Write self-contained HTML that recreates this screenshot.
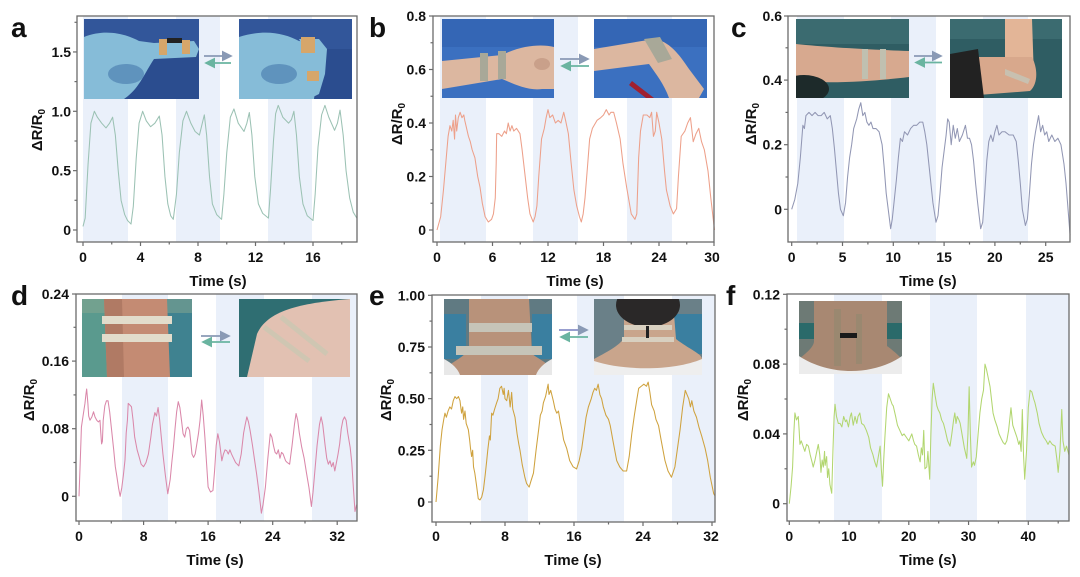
<!DOCTYPE html>
<html><head><meta charset="utf-8"><style>
html,body{margin:0;padding:0;background:#fff;}
svg{display:block;}
text{font-family:"Liberation Sans",Arial,sans-serif;font-weight:bold;fill:#111;}
.t{font-size:14px;}
.lab{font-size:15px;}
.let{font-size:28px;}
.fr{fill:none;stroke:#6b6b6b;stroke-width:1.3;}
.tk{stroke:#6b6b6b;stroke-width:1.2;}
.band{fill:#eaf0fa;}
.cv{fill:none;stroke-width:1.05;vector-effect:non-scaling-stroke;stroke-linejoin:round;}
</style></head><body>
<svg width="1080" height="577" viewBox="0 0 1080 577" xmlns="http://www.w3.org/2000/svg">
<defs>
<marker id="ahR" markerWidth="6" markerHeight="6" refX="5" refY="3" orient="auto"><path d="M0,0 L6,3 L0,6 Z" fill="#8a9ab5"/></marker>
<marker id="ahL" markerWidth="6" markerHeight="6" refX="5" refY="3" orient="auto"><path d="M0,0 L6,3 L0,6 Z" fill="#6ab4a0"/></marker>
</defs>
<rect width="1080" height="577" fill="#fff"/>

<!-- ================= PANEL A ================= -->
<rect class="band" x="83" y="16" width="45" height="226"/>
<rect class="band" x="176" y="16" width="44" height="226"/>
<rect class="band" x="268" y="16" width="44" height="226"/>
<svg x="84" y="19" width="115" height="80">
<rect width="115" height="80" fill="#2b4d8f"/>
<rect width="115" height="30" fill="#32569a"/>
<path d="M0,18 C20,10 40,14 55,22 L70,24 L110,22 L115,30 L112,38 L70,40 C60,55 55,70 40,80 L0,80 Z" fill="#86bcd8"/>
<ellipse cx="42" cy="55" rx="18" ry="10" fill="#5f93bd"/>
<rect x="75" y="20" width="8" height="16" fill="#d6a66a"/>
<rect x="98" y="21" width="8" height="14" fill="#d6a66a"/>
<rect x="83" y="19" width="15" height="5" fill="#222"/>
</svg>
<svg x="239" y="19" width="113" height="80">
<rect width="113" height="80" fill="#2b4d8f"/>
<rect width="113" height="30" fill="#32569a"/>
<path d="M0,18 C25,10 45,14 60,22 L75,24 L80,40 L75,80 L0,80 Z" fill="#86bcd8"/>
<path d="M60,20 L80,20 L88,30 L86,55 L80,75 L70,80 L66,60 L68,35 Z" fill="#86bcd8"/>
<ellipse cx="40" cy="55" rx="18" ry="10" fill="#5f93bd"/>
<rect x="62" y="18" width="14" height="16" fill="#d6a66a"/>
<rect x="68" y="52" width="12" height="10" fill="#d6a66a"/>
</svg>
<line x1="204" y1="56" x2="231" y2="56" stroke="#8a9ab5" stroke-width="1.8" marker-end="url(#ahR)"/>
<line x1="231" y1="63" x2="206" y2="63" stroke="#6ab4a0" stroke-width="1.8" marker-end="url(#ahL)"/>
<polyline class="cv" stroke="#9cc2b4" transform="translate(83,230) scale(14.375,-118.7)" points="0,0.03 0.15,0.1 0.35,0.55 0.55,0.9 0.79,1.0 1.0,0.95 1.3,0.9 1.6,0.86 1.85,0.9 2.06,0.95 2.25,0.8 2.45,0.5 2.65,0.25 2.9,0.13 3.1,0.08 3.34,0.05 3.5,0.2 3.7,0.6 3.9,0.9 4.15,1.0 4.4,0.92 4.7,0.87 5.0,0.9 5.31,0.96 5.5,0.8 5.7,0.45 5.9,0.22 6.1,0.12 6.28,0.09 6.5,0.3 6.7,0.65 6.95,0.92 7.2,1.0 7.5,0.9 7.8,0.83 8.1,0.8 8.3,0.9 8.44,0.97 8.6,0.8 8.8,0.45 9.0,0.22 9.3,0.13 9.64,0.09 9.8,0.3 10.0,0.65 10.25,0.95 10.5,1.02 10.8,0.9 11.2,0.83 11.4,0.9 11.57,0.99 11.75,0.8 11.95,0.45 12.2,0.22 12.5,0.14 12.9,0.1 13.05,0.35 13.25,0.75 13.4,0.98 13.58,1.05 13.9,0.95 14.3,0.9 14.5,0.93 14.67,1.0 14.85,0.8 15.05,0.45 15.3,0.22 15.6,0.12 16.0,0.08 16.15,0.3 16.35,0.7 16.6,0.97 16.83,1.05 17.1,0.95 17.5,0.84 17.7,0.9 17.88,1.01 18.1,0.8 18.3,0.5 18.55,0.27 18.8,0.15 19.05,0.1"/>
<rect class="fr" x="77" y="16" width="280" height="226"/>
<g class="tk">
<line x1="83" y1="242" x2="83" y2="246"/><line x1="140.5" y1="242" x2="140.5" y2="246"/><line x1="198" y1="242" x2="198" y2="246"/><line x1="255.5" y1="242" x2="255.5" y2="246"/><line x1="313" y1="242" x2="313" y2="246"/>
<line x1="111.75" y1="242" x2="111.75" y2="244.5"/><line x1="169.25" y1="242" x2="169.25" y2="244.5"/><line x1="226.75" y1="242" x2="226.75" y2="244.5"/><line x1="284.25" y1="242" x2="284.25" y2="244.5"/><line x1="341.75" y1="242" x2="341.75" y2="244.5"/>
<line x1="73" y1="230" x2="77" y2="230"/><line x1="73" y1="170.65" x2="77" y2="170.65"/><line x1="73" y1="111.3" x2="77" y2="111.3"/><line x1="73" y1="51.95" x2="77" y2="51.95"/>
<line x1="74.5" y1="200.3" x2="77" y2="200.3"/><line x1="74.5" y1="141" x2="77" y2="141"/><line x1="74.5" y1="81.6" x2="77" y2="81.6"/><line x1="74.5" y1="22.3" x2="77" y2="22.3"/>
</g>
<g class="t" text-anchor="end">
<text x="71" y="235">0</text><text x="71" y="175.6">0.5</text><text x="71" y="116.3">1.0</text><text x="71" y="57">1.5</text>
</g>
<g class="t" text-anchor="middle">
<text x="83" y="262">0</text><text x="140.5" y="262">4</text><text x="198" y="262">8</text><text x="255.5" y="262">12</text><text x="313" y="262">16</text>
</g>
<text class="lab" x="218" y="286" text-anchor="middle">Time (s)</text>
<text class="lab" text-anchor="middle" transform="translate(42,130) rotate(-90)">ΔR/R<tspan font-size="10" dy="3">0</tspan></text>
<text class="let" x="11" y="37">a</text>

<!-- ================= PANEL B ================= -->
<rect class="band" x="440" y="16" width="46" height="226"/>
<rect class="band" x="533" y="16" width="45" height="226"/>
<rect class="band" x="627" y="16" width="45" height="226"/>
<svg x="442" y="19" width="112" height="79">
<rect width="112" height="79" fill="#3b70c0"/>
<rect width="112" height="28" fill="#3466b5"/>
<path d="M0,42 L60,36 C80,26 100,25 112,28 L112,70 L100,70 C85,72 70,64 60,60 L0,70 Z" fill="#dcb7a0"/>
<rect x="38" y="34" width="8" height="28" fill="#a8a898"/>
<rect x="56" y="32" width="8" height="28" fill="#a8a898"/>
<ellipse cx="100" cy="45" rx="8" ry="6" fill="#c9a08a"/>
</svg>
<svg x="594" y="19" width="113" height="79">
<rect width="113" height="79" fill="#3b70c0"/>
<rect width="113" height="28" fill="#3466b5"/>
<path d="M0,30 L60,20 C75,22 85,35 95,50 L110,70 L105,79 L75,79 C70,65 62,55 55,45 L0,52 Z" fill="#dcb7a0"/>
<path d="M50,20 L66,18 L78,40 L64,44 Z" fill="#a8a898"/>
<path d="M38,62 L60,79 L52,79 L35,66 Z" fill="#a02030"/>
</svg>
<line x1="560" y1="59" x2="588" y2="59" stroke="#8a9ab5" stroke-width="1.8" marker-end="url(#ahR)"/>
<line x1="589" y1="66" x2="562" y2="66" stroke="#6ab4a0" stroke-width="1.8" marker-end="url(#ahL)"/>
<polyline class="cv" stroke="#eda08a" transform="translate(437,230) scale(9.25,-267.5)" points="0,0 0.4,0.05 0.7,0.15 1.0,0.27 1.2,0.35 1.4,0.39 1.6,0.37 1.75,0.41 1.9,0.34 2.0,0.43 2.13,0.37 2.3,0.42 2.5,0.44 2.7,0.42 2.9,0.43 3.0,0.41 3.2,0.38 3.4,0.35 3.6,0.33 3.8,0.3 4.1,0.27 4.4,0.2 4.65,0.16 4.9,0.1 5.2,0.05 5.55,0.03 5.9,0.04 6.1,0.06 6.3,0.12 6.4,0.25 6.45,0.36 6.7,0.36 7.0,0.35 7.3,0.37 7.5,0.36 7.7,0.40 7.9,0.37 8.1,0.39 8.3,0.37 8.6,0.38 8.97,0.36 9.2,0.3 9.5,0.21 9.8,0.12 10.05,0.06 10.4,0.03 10.6,0.05 10.8,0.09 11.0,0.2 11.3,0.34 11.6,0.38 11.8,0.42 12.0,0.45 12.2,0.42 12.5,0.43 12.8,0.40 13.1,0.41 13.4,0.40 13.7,0.44 13.9,0.41 14.2,0.36 14.5,0.25 14.8,0.15 15.1,0.09 15.4,0.05 15.6,0.03 15.8,0.06 16.0,0.12 16.3,0.25 16.5,0.34 16.8,0.38 17.3,0.41 17.7,0.42 18.0,0.43 18.3,0.45 18.6,0.43 18.8,0.44 19.1,0.44 19.4,0.4 19.8,0.34 20.1,0.25 20.5,0.16 21.0,0.06 21.4,0.04 21.6,0.06 21.8,0.27 22.0,0.37 22.3,0.43 22.7,0.43 23.0,0.42 23.2,0.44 23.4,0.35 23.6,0.37 23.75,0.44 24.0,0.40 24.3,0.34 24.6,0.22 24.8,0.15 25.2,0.09 25.55,0.06 25.9,0.08 26.1,0.2 26.4,0.35 26.8,0.37 27.1,0.40 27.4,0.42 27.7,0.33 28.0,0.36 28.3,0.38 28.6,0.33 28.9,0.30 29.3,0.22 29.6,0.12 29.9,0.03 30.0,0.0"/>
<rect class="fr" x="433" y="16" width="281" height="226"/>
<g class="tk">
<line x1="437" y1="242" x2="437" y2="246"/><line x1="492.5" y1="242" x2="492.5" y2="246"/><line x1="548" y1="242" x2="548" y2="246"/><line x1="603.5" y1="242" x2="603.5" y2="246"/><line x1="659" y1="242" x2="659" y2="246"/><line x1="714" y1="242" x2="714" y2="246"/>
<line x1="464.75" y1="242" x2="464.75" y2="244.5"/><line x1="520.25" y1="242" x2="520.25" y2="244.5"/><line x1="575.75" y1="242" x2="575.75" y2="244.5"/><line x1="631.25" y1="242" x2="631.25" y2="244.5"/><line x1="686.75" y1="242" x2="686.75" y2="244.5"/>
<line x1="429" y1="230" x2="433" y2="230"/><line x1="429" y1="176.5" x2="433" y2="176.5"/><line x1="429" y1="123" x2="433" y2="123"/><line x1="429" y1="69.5" x2="433" y2="69.5"/><line x1="429" y1="16" x2="433" y2="16"/>
<line x1="430.5" y1="203.25" x2="433" y2="203.25"/><line x1="430.5" y1="149.75" x2="433" y2="149.75"/><line x1="430.5" y1="96.25" x2="433" y2="96.25"/><line x1="430.5" y1="42.75" x2="433" y2="42.75"/>
</g>
<g class="t" text-anchor="end">
<text x="426" y="235">0</text><text x="426" y="181.5">0.2</text><text x="426" y="128">0.4</text><text x="426" y="74.5">0.6</text><text x="426" y="21">0.8</text>
</g>
<g class="t" text-anchor="middle">
<text x="437" y="262">0</text><text x="492.5" y="262">6</text><text x="548" y="262">12</text><text x="603.5" y="262">18</text><text x="659" y="262">24</text><text x="712" y="262">30</text>
</g>
<text class="lab" x="575" y="286" text-anchor="middle">Time (s)</text>
<text class="lab" text-anchor="middle" transform="translate(402,124) rotate(-90)">ΔR/R<tspan font-size="10" dy="3">0</tspan></text>
<text class="let" x="369" y="37">b</text>

<!-- ================= PANEL C ================= -->
<rect class="band" x="797" y="16" width="47" height="226"/>
<rect class="band" x="891" y="16" width="45" height="226"/>
<rect class="band" x="983" y="16" width="45" height="226"/>
<svg x="796" y="19" width="113" height="79">
<rect width="113" height="79" fill="#2f5d63"/>
<rect width="113" height="25" fill="#3b6b70"/>
<path d="M0,25 C30,28 60,30 113,32 L113,58 C80,62 40,65 0,62 Z" fill="#d7a98f"/>
<ellipse cx="8" cy="70" rx="25" ry="14" fill="#1d2a2a"/>
<rect x="66" y="30" width="6" height="30" fill="#c0c0b0"/>
<rect x="84" y="30" width="6" height="30" fill="#c0c0b0"/>
</svg>
<svg x="950" y="19" width="112" height="79">
<rect width="112" height="79" fill="#2f5d63"/>
<rect width="112" height="20" fill="#3b6b70"/>
<path d="M55,0 L82,0 L84,60 L55,60 Z" fill="#e3b597"/>
<path d="M20,38 L82,38 C88,50 88,65 80,72 L28,76 Z" fill="#d8a88c"/>
<path d="M0,35 L28,30 L34,79 L0,79 Z" fill="#222"/>
<path d="M55,50 L80,60 L78,65 L55,56 Z" fill="#c8c0b0"/>
</svg>
<line x1="914" y1="56" x2="941" y2="56" stroke="#8a9ab5" stroke-width="1.8" marker-end="url(#ahR)"/>
<line x1="942" y1="62.5" x2="916" y2="62.5" stroke="#6ab4a0" stroke-width="1.8" marker-end="url(#ahL)"/>
<polyline class="cv" stroke="#9297b4" transform="translate(791.7,209.3) scale(10.16,-323)" points="0,0 0.3,0.03 0.6,0.08 0.85,0.16 1.0,0.22 1.1,0.26 1.25,0.25 1.4,0.29 1.7,0.3 2.0,0.29 2.3,0.3 2.6,0.29 2.9,0.29 3.2,0.3 3.5,0.28 3.8,0.29 4.0,0.25 4.2,0.19 4.4,0.12 4.6,0.05 4.8,0.0 5.08,-0.02 5.3,0.02 5.5,0.1 5.7,0.16 5.9,0.2 6.1,0.25 6.4,0.28 6.6,0.31 6.8,0.33 7.0,0.29 7.2,0.3 7.4,0.27 7.6,0.26 7.8,0.27 8.0,0.25 8.3,0.25 8.6,0.24 8.9,0.2 9.1,0.13 9.3,0.05 9.5,0.0 9.74,-0.06 9.9,-0.03 10.1,0.03 10.3,0.09 10.5,0.16 10.7,0.22 10.9,0.21 11.1,0.24 11.4,0.23 11.7,0.25 12.0,0.26 12.3,0.26 12.6,0.27 12.9,0.27 13.1,0.24 13.3,0.2 13.5,0.14 13.7,0.08 13.9,0.02 14.2,-0.04 14.4,-0.02 14.6,0.05 14.8,0.13 15.0,0.18 15.2,0.23 15.35,0.28 15.5,0.27 15.7,0.2 15.9,0.26 16.1,0.22 16.3,0.25 16.5,0.21 16.8,0.23 17.1,0.26 17.3,0.22 17.5,0.22 17.7,0.2 17.9,0.15 18.1,0.08 18.3,0.02 18.6,-0.06 18.8,-0.04 19.0,0.05 19.2,0.15 19.4,0.21 19.6,0.23 19.8,0.21 20.0,0.24 20.2,0.26 20.4,0.23 20.7,0.24 21.0,0.24 21.4,0.23 21.8,0.23 22.1,0.21 22.3,0.15 22.5,0.08 22.7,0.0 23.0,-0.05 23.2,-0.03 23.4,0.05 23.6,0.14 23.8,0.2 24.0,0.24 24.3,0.29 24.5,0.24 24.7,0.26 24.9,0.23 25.1,0.24 25.3,0.21 25.6,0.23 25.9,0.21 26.2,0.22 26.5,0.2 26.8,0.14 27.0,0.08 27.2,0.0 27.4,-0.08"/>
<rect class="fr" x="788" y="16" width="282" height="226"/>
<g class="tk">
<line x1="791.7" y1="242" x2="791.7" y2="246"/><line x1="842.5" y1="242" x2="842.5" y2="246"/><line x1="893.3" y1="242" x2="893.3" y2="246"/><line x1="944.1" y1="242" x2="944.1" y2="246"/><line x1="994.9" y1="242" x2="994.9" y2="246"/><line x1="1045.7" y1="242" x2="1045.7" y2="246"/>
<line x1="817.1" y1="242" x2="817.1" y2="244.5"/><line x1="867.9" y1="242" x2="867.9" y2="244.5"/><line x1="918.7" y1="242" x2="918.7" y2="244.5"/><line x1="969.5" y1="242" x2="969.5" y2="244.5"/><line x1="1020.3" y1="242" x2="1020.3" y2="244.5"/>
<line x1="784" y1="209.3" x2="788" y2="209.3"/><line x1="784" y1="144.7" x2="788" y2="144.7"/><line x1="784" y1="80.1" x2="788" y2="80.1"/><line x1="784" y1="16" x2="788" y2="16"/>
<line x1="785.5" y1="177" x2="788" y2="177"/><line x1="785.5" y1="112.4" x2="788" y2="112.4"/><line x1="785.5" y1="47.8" x2="788" y2="47.8"/>
</g>
<g class="t" text-anchor="end">
<text x="782" y="214.3">0</text><text x="782" y="149.7">0.2</text><text x="782" y="85.1">0.4</text><text x="782" y="21">0.6</text>
</g>
<g class="t" text-anchor="middle">
<text x="791.7" y="262">0</text><text x="842.5" y="262">5</text><text x="893.3" y="262">10</text><text x="944.1" y="262">15</text><text x="994.9" y="262">20</text><text x="1045.7" y="262">25</text>
</g>
<text class="lab" x="928" y="286" text-anchor="middle">Time (s)</text>
<text class="lab" text-anchor="middle" transform="translate(756,124) rotate(-90)">ΔR/R<tspan font-size="10" dy="3">0</tspan></text>
<text class="let" x="731" y="37">c</text>

<!-- ================= PANEL D ================= -->
<rect class="band" x="122" y="294" width="46" height="227"/>
<rect class="band" x="216" y="294" width="48" height="227"/>
<rect class="band" x="312" y="294" width="45" height="227"/>
<svg x="82" y="299" width="110" height="78">
<rect width="110" height="78" fill="#3f8290"/>
<rect width="40" height="78" fill="#5a9a8e"/>
<rect width="110" height="14" fill="#8aa890" opacity="0.5"/>
<path d="M22,0 L85,0 L88,78 L25,78 Z" fill="#c48b73"/>
<path d="M22,0 L40,0 L42,78 L25,78 Z" fill="#b07a64"/>
<rect x="20" y="17" width="70" height="8" fill="#e2dccb"/>
<rect x="20" y="35" width="70" height="8" fill="#e2dccb"/>
</svg>
<svg x="239" y="299" width="111" height="78">
<rect width="111" height="78" fill="#2f6e72"/>
<path d="M18,35 C28,12 60,4 111,0 L111,78 L8,78 Z" fill="#e2c1b2"/>
<path d="M25,28 L70,62" stroke="#cfc6b2" stroke-width="5"/>
<path d="M42,18 L88,55" stroke="#cfc6b2" stroke-width="5"/>
</svg>
<line x1="201" y1="336" x2="229" y2="336" stroke="#8a9ab5" stroke-width="1.8" marker-end="url(#ahR)"/>
<line x1="230" y1="342" x2="203" y2="342" stroke="#6ab4a0" stroke-width="1.8" marker-end="url(#ahL)"/>
<polyline class="cv" stroke="#da88aa" transform="translate(79,496.3) scale(8.07,-845)" points="0,0 0.15,0.04 0.3,0.082 0.5,0.095 0.74,0.11 0.85,0.12 0.95,0.127 1.1,0.11 1.2,0.095 1.36,0.09 1.6,0.094 1.8,0.1 1.98,0.094 2.2,0.09 2.4,0.088 2.6,0.09 2.7,0.075 2.8,0.062 2.9,0.065 3.0,0.09 3.2,0.107 3.4,0.113 3.6,0.113 3.8,0.1 4.0,0.082 4.3,0.055 4.5,0.035 4.7,0.023 4.9,0.01 5.1,0.0 5.3,0.01 5.5,0.025 5.7,0.043 5.85,0.075 6.0,0.09 6.1,0.11 6.3,0.108 6.5,0.106 6.7,0.09 6.9,0.07 7.2,0.055 7.5,0.045 7.7,0.038 8.0,0.035 8.3,0.04 8.6,0.05 8.9,0.07 9.1,0.085 9.4,0.099 9.6,0.095 9.8,0.105 10.0,0.09 10.2,0.07 10.4,0.05 10.7,0.025 11.0,0.003 11.3,0.02 11.5,0.04 11.7,0.058 11.9,0.08 12.1,0.1 12.3,0.112 12.5,0.105 12.7,0.09 12.9,0.074 13.1,0.07 13.3,0.08 13.5,0.082 13.7,0.078 13.9,0.06 14.0,0.05 14.2,0.046 14.4,0.05 14.6,0.062 14.8,0.074 15.0,0.09 15.2,0.114 15.4,0.095 15.6,0.07 15.8,0.04 16.0,0.011 16.3,0.005 16.6,0.007 16.8,0.03 17.0,0.06 17.2,0.074 17.4,0.065 17.7,0.042 17.9,0.05 18.1,0.055 18.3,0.054 18.5,0.05 18.7,0.055 18.9,0.05 19.1,0.046 19.4,0.04 19.6,0.038 19.8,0.036 20.1,0.05 20.4,0.075 20.6,0.085 20.8,0.094 21.0,0.088 21.2,0.078 21.5,0.06 21.8,0.04 22.0,0.027 22.3,0.005 22.6,-0.02 22.8,-0.01 23.1,0.011 23.4,0.045 23.7,0.074 23.9,0.07 24.1,0.06 24.3,0.052 24.5,0.05 24.7,0.055 24.9,0.045 25.1,0.052 25.3,0.05 25.6,0.042 25.8,0.04 26.1,0.038 26.4,0.06 26.7,0.085 26.9,0.098 27.1,0.09 27.3,0.075 27.6,0.058 27.9,0.045 28.2,0.027 28.5,0.01 28.8,-0.012 29.0,0.005 29.2,0.027 29.5,0.06 29.8,0.085 30.0,0.094 30.2,0.085 30.5,0.06 30.7,0.045 30.9,0.038 31.1,0.042 31.3,0.035 31.5,0.04 31.7,0.03 31.9,0.04 32.1,0.05 32.3,0.062 32.5,0.08 32.7,0.09 32.9,0.094 33.1,0.09 33.3,0.075 33.6,0.058 33.8,0.04 34.0,0.01 34.2,-0.018 34.4,-0.01"/>
<rect class="fr" x="76" y="294" width="281" height="227"/>
<g class="tk">
<line x1="79" y1="521" x2="79" y2="525"/><line x1="143.6" y1="521" x2="143.6" y2="525"/><line x1="208.1" y1="521" x2="208.1" y2="525"/><line x1="272.7" y1="521" x2="272.7" y2="525"/><line x1="337.2" y1="521" x2="337.2" y2="525"/>
<line x1="111.3" y1="521" x2="111.3" y2="523.5"/><line x1="175.8" y1="521" x2="175.8" y2="523.5"/><line x1="240.4" y1="521" x2="240.4" y2="523.5"/><line x1="305" y1="521" x2="305" y2="523.5"/>
<line x1="72" y1="496.3" x2="76" y2="496.3"/><line x1="72" y1="428.7" x2="76" y2="428.7"/><line x1="72" y1="361.1" x2="76" y2="361.1"/><line x1="72" y1="294" x2="76" y2="294"/>
<line x1="73.5" y1="462.5" x2="76" y2="462.5"/><line x1="73.5" y1="394.9" x2="76" y2="394.9"/><line x1="73.5" y1="327.3" x2="76" y2="327.3"/>
</g>
<g class="t" text-anchor="end">
<text x="69" y="501.3">0</text><text x="69" y="433.7">0.08</text><text x="69" y="366.1">0.16</text><text x="69" y="299">0.24</text>
</g>
<g class="t" text-anchor="middle">
<text x="79" y="541">0</text><text x="143.6" y="541">8</text><text x="208.1" y="541">16</text><text x="272.7" y="541">24</text><text x="337.2" y="541">32</text>
</g>
<text class="lab" x="215" y="565" text-anchor="middle">Time (s)</text>
<text class="lab" text-anchor="middle" transform="translate(34,400) rotate(-90)">ΔR/R<tspan font-size="10" dy="3">0</tspan></text>
<text class="let" x="11" y="305">d</text>

<!-- ================= PANEL E ================= -->
<rect class="band" x="481" y="295" width="47" height="227"/>
<rect class="band" x="577" y="295" width="47" height="227"/>
<rect class="band" x="672" y="295" width="43" height="227"/>
<svg x="444" y="299" width="108" height="76">
<rect width="108" height="76" fill="#607a82"/>
<rect x="0" y="15" width="22" height="45" fill="#3a7fa0"/>
<rect x="88" y="15" width="20" height="45" fill="#3a7fa0"/>
<path d="M25,0 L85,0 L88,55 C95,60 105,65 108,70 L108,76 L0,76 L0,70 C10,62 20,58 25,50 Z" fill="#b8927a"/>
<rect x="25" y="24" width="63" height="9" fill="#c6c4b8"/>
<rect x="12" y="47" width="86" height="9" fill="#c6c4b8"/>
<path d="M0,60 C8,64 14,70 16,76 L0,76 Z" fill="#e8e8e8"/>
<path d="M108,60 C100,64 94,70 92,76 L108,76 Z" fill="#e8e8e8"/>
</svg>
<svg x="594" y="299" width="108" height="76">
<rect width="108" height="76" fill="#6a8088"/>
<rect x="80" y="15" width="28" height="40" fill="#3a7fa0"/>
<path d="M30,15 L80,15 L82,40 C95,50 108,55 108,60 L108,76 L0,76 L0,60 C15,52 28,45 30,38 Z" fill="#c9a58c"/>
<ellipse cx="54" cy="6" rx="32" ry="22" fill="#2a2828"/>
<path d="M0,62 C30,72 80,72 108,60 L108,76 L0,76 Z" fill="#eeeeee"/>
<rect x="30" y="26" width="48" height="5" fill="#d8d0c0"/>
<rect x="28" y="38" width="52" height="5" fill="#d8d0c0"/>
<rect x="52" y="27" width="3" height="12" fill="#222"/>
</svg>
<line x1="559" y1="330" x2="587" y2="330" stroke="#8a90c8" stroke-width="1.8" marker-end="url(#ahR)"/>
<line x1="588" y1="337" x2="561" y2="337" stroke="#6ab4a0" stroke-width="1.8" marker-end="url(#ahL)"/>
<polyline class="cv" stroke="#cfa23e" transform="translate(436,502) scale(8.625,-206.7)" points="0,0 0.25,0.12 0.5,0.27 0.7,0.35 0.9,0.4 1.04,0.43 1.2,0.41 1.4,0.44 1.6,0.46 1.8,0.45 2.0,0.49 2.2,0.51 2.4,0.5 2.6,0.51 2.78,0.49 2.9,0.45 2.97,0.43 3.1,0.46 3.2,0.4 3.36,0.44 3.5,0.38 3.75,0.35 3.9,0.3 4.0,0.26 4.13,0.22 4.25,0.25 4.35,0.17 4.5,0.14 4.7,0.08 4.9,0.016 5.1,0.01 5.3,0.024 5.5,0.06 5.7,0.13 5.88,0.2 6.0,0.25 6.2,0.32 6.3,0.3 6.45,0.43 6.6,0.42 6.8,0.45 7.03,0.48 7.2,0.5 7.4,0.55 7.6,0.56 7.8,0.52 7.9,0.55 8.0,0.5 8.2,0.49 8.4,0.54 8.6,0.46 8.77,0.53 8.9,0.45 9.16,0.41 9.4,0.33 9.6,0.28 9.74,0.25 10.0,0.18 10.3,0.12 10.5,0.09 10.8,0.072 11.0,0.1 11.3,0.14 11.6,0.25 11.9,0.35 12.1,0.42 12.3,0.44 12.45,0.48 12.7,0.51 12.9,0.55 13.0,0.57 13.1,0.52 13.3,0.54 13.6,0.49 13.8,0.45 14.0,0.43 14.2,0.44 14.4,0.39 14.6,0.35 14.8,0.3 15.15,0.26 15.5,0.2 15.9,0.17 16.3,0.16 16.6,0.2 16.9,0.26 17.2,0.35 17.4,0.41 17.67,0.46 18.0,0.5 18.2,0.53 18.4,0.55 18.6,0.54 18.8,0.57 19.0,0.52 19.2,0.5 19.4,0.46 19.7,0.42 20.0,0.4 20.2,0.37 20.5,0.3 20.95,0.2 21.3,0.17 21.7,0.15 22.1,0.15 22.4,0.22 22.7,0.33 23.0,0.42 23.3,0.5 23.5,0.55 23.8,0.56 24.1,0.57 24.4,0.56 24.6,0.58 24.8,0.53 25.0,0.47 25.3,0.44 25.5,0.4 25.8,0.37 26.1,0.3 26.55,0.2 26.9,0.15 27.3,0.12 27.7,0.17 28.0,0.26 28.3,0.35 28.6,0.46 28.9,0.54 29.1,0.52 29.3,0.5 29.5,0.46 29.66,0.49 29.9,0.44 30.2,0.41 30.5,0.36 30.8,0.32 31.2,0.26 31.5,0.2 31.8,0.12 32.2,0.04 32.35,0.03"/>
<rect class="fr" x="432" y="295" width="283" height="227"/>
<g class="tk">
<line x1="436" y1="522" x2="436" y2="526"/><line x1="505" y1="522" x2="505" y2="526"/><line x1="574" y1="522" x2="574" y2="526"/><line x1="643" y1="522" x2="643" y2="526"/><line x1="712" y1="522" x2="712" y2="526"/>
<line x1="470.5" y1="522" x2="470.5" y2="524.5"/><line x1="539.5" y1="522" x2="539.5" y2="524.5"/><line x1="608.5" y1="522" x2="608.5" y2="524.5"/><line x1="677.5" y1="522" x2="677.5" y2="524.5"/>
<line x1="428" y1="502" x2="432" y2="502"/><line x1="428" y1="450.3" x2="432" y2="450.3"/><line x1="428" y1="398.65" x2="432" y2="398.65"/><line x1="428" y1="347" x2="432" y2="347"/><line x1="428" y1="295.3" x2="432" y2="295.3"/>
<line x1="429.5" y1="476.2" x2="432" y2="476.2"/><line x1="429.5" y1="424.5" x2="432" y2="424.5"/><line x1="429.5" y1="372.8" x2="432" y2="372.8"/><line x1="429.5" y1="321.1" x2="432" y2="321.1"/>
</g>
<g class="t" text-anchor="end">
<text x="425" y="507">0</text><text x="425" y="455.3">0.25</text><text x="425" y="403.6">0.50</text><text x="425" y="352">0.75</text><text x="425" y="300.3">1.00</text>
</g>
<g class="t" text-anchor="middle">
<text x="436" y="541">0</text><text x="505" y="541">8</text><text x="574" y="541">16</text><text x="643" y="541">24</text><text x="711" y="541">32</text>
</g>
<text class="lab" x="573" y="565" text-anchor="middle">Time (s)</text>
<text class="lab" text-anchor="middle" transform="translate(391,400) rotate(-90)">ΔR/R<tspan font-size="10" dy="3">0</tspan></text>
<text class="let" x="369" y="305">e</text>

<!-- ================= PANEL F ================= -->
<rect class="band" x="834" y="294" width="48" height="227"/>
<rect class="band" x="930" y="294" width="47" height="227"/>
<rect class="band" x="1026" y="294" width="43" height="227"/>
<svg x="799" y="301" width="103" height="73">
<rect width="103" height="73" fill="#6d7a75"/>
<rect y="22" width="103" height="16" fill="#2a6a6a"/>
<path d="M15,0 L88,0 L88,45 C95,50 100,55 103,58 L103,73 L0,73 L0,58 C10,50 15,45 15,40 Z" fill="#a88872"/>
<path d="M0,55 C30,75 75,75 103,55 L103,73 L0,73 Z" fill="#ececec"/>
<rect x="35" y="8" width="7" height="57" fill="#9a8870"/>
<rect x="57" y="13" width="6" height="50" fill="#9a8870"/>
<rect x="41" y="32" width="17" height="5" fill="#1a1a1a"/>
</svg>
<polyline class="cv" stroke="#b2d670" transform="translate(789.3,503.7) scale(5.975,-1745)" points="0,0 0.3,0.01 0.55,0.021 0.75,0.04 0.94,0.052 1.2,0.048 1.5,0.05 1.65,0.042 1.78,0.034 2.0,0.036 2.3,0.033 2.6,0.03 2.9,0.034 3.2,0.033 3.5,0.028 3.8,0.024 4.0,0.021 4.3,0.025 4.6,0.03 4.85,0.034 5.1,0.028 5.3,0.018 5.5,0.025 5.7,0.021 5.9,0.03 6.0,0.022 6.25,0.027 6.4,0.015 6.6,0.02 6.8,0.011 7.1,0.006 7.3,0.03 7.5,0.05 7.65,0.057 7.9,0.05 8.2,0.046 8.5,0.046 8.8,0.044 9.1,0.05 9.4,0.047 9.6,0.048 9.9,0.044 10.2,0.05 10.4,0.052 10.7,0.045 11.0,0.05 11.3,0.046 11.5,0.05 11.8,0.052 12.1,0.046 12.5,0.045 12.9,0.042 13.3,0.038 13.6,0.032 14.0,0.028 14.3,0.024 14.6,0.021 14.9,0.027 15.2,0.033 15.4,0.02 15.6,0.01 15.8,0.025 16.0,0.038 16.3,0.055 16.6,0.063 16.9,0.06 17.2,0.057 17.4,0.056 17.8,0.05 18.1,0.045 18.5,0.042 18.9,0.039 19.2,0.04 19.6,0.038 20.0,0.036 20.5,0.04 20.8,0.036 21.0,0.034 21.3,0.033 21.6,0.028 21.9,0.024 22.1,0.032 22.3,0.028 22.5,0.042 22.7,0.02 23.0,0.021 23.2,0.03 23.5,0.014 23.7,0.04 23.9,0.06 24.1,0.069 24.4,0.062 24.7,0.056 24.9,0.054 25.2,0.052 25.5,0.048 25.8,0.046 26.1,0.042 26.5,0.036 26.9,0.033 27.2,0.04 27.5,0.048 27.7,0.052 27.9,0.046 28.1,0.05 28.4,0.048 28.6,0.046 28.9,0.04 29.3,0.032 29.7,0.026 29.9,0.04 30.1,0.067 30.3,0.04 30.5,0.021 30.8,0.024 31.0,0.022 31.3,0.027 31.6,0.04 31.9,0.052 32.2,0.06 32.5,0.065 32.75,0.08 33.0,0.077 33.3,0.072 33.6,0.067 33.9,0.058 34.1,0.052 34.4,0.048 34.8,0.044 35.1,0.04 35.5,0.037 35.8,0.035 36.1,0.034 36.4,0.036 36.7,0.042 37.1,0.055 37.4,0.045 37.8,0.041 38.1,0.038 38.4,0.034 38.6,0.036 38.8,0.03 39.0,0.054 39.2,0.028 39.4,0.014 39.7,0.03 40.0,0.055 40.3,0.065 40.6,0.064 40.9,0.06 41.1,0.058 41.5,0.052 41.8,0.046 42.2,0.041 42.6,0.038 43.0,0.036 43.3,0.034 43.6,0.036 44.0,0.034 44.5,0.033 44.8,0.025 45.0,0.018 45.3,0.03 45.6,0.054 45.8,0.036 46.1,0.03 46.4,0.033 46.8,0.028"/>
<rect class="fr" x="787" y="294" width="282" height="227"/>
<g class="tk">
<line x1="789.3" y1="521" x2="789.3" y2="525"/><line x1="849.05" y1="521" x2="849.05" y2="525"/><line x1="908.8" y1="521" x2="908.8" y2="525"/><line x1="968.55" y1="521" x2="968.55" y2="525"/><line x1="1028.3" y1="521" x2="1028.3" y2="525"/>
<line x1="819.2" y1="521" x2="819.2" y2="523.5"/><line x1="878.9" y1="521" x2="878.9" y2="523.5"/><line x1="938.7" y1="521" x2="938.7" y2="523.5"/><line x1="998.4" y1="521" x2="998.4" y2="523.5"/><line x1="1058.2" y1="521" x2="1058.2" y2="523.5"/>
<line x1="783" y1="503.7" x2="787" y2="503.7"/><line x1="783" y1="433.9" x2="787" y2="433.9"/><line x1="783" y1="364.1" x2="787" y2="364.1"/><line x1="783" y1="294.3" x2="787" y2="294.3"/>
<line x1="784.5" y1="468.8" x2="787" y2="468.8"/><line x1="784.5" y1="399" x2="787" y2="399"/><line x1="784.5" y1="329.2" x2="787" y2="329.2"/>
</g>
<g class="t" text-anchor="end">
<text x="780" y="508.7">0</text><text x="780" y="438.9">0.04</text><text x="780" y="369.1">0.08</text><text x="780" y="299.3">0.12</text>
</g>
<g class="t" text-anchor="middle">
<text x="789.3" y="541">0</text><text x="849.05" y="541">10</text><text x="908.8" y="541">20</text><text x="968.55" y="541">30</text><text x="1028.3" y="541">40</text>
</g>
<text class="lab" x="928" y="565" text-anchor="middle">Time (s)</text>
<text class="lab" text-anchor="middle" transform="translate(748,400) rotate(-90)">ΔR/R<tspan font-size="10" dy="3">0</tspan></text>
<text class="let" x="726" y="305">f</text>
</svg>
</body></html>
